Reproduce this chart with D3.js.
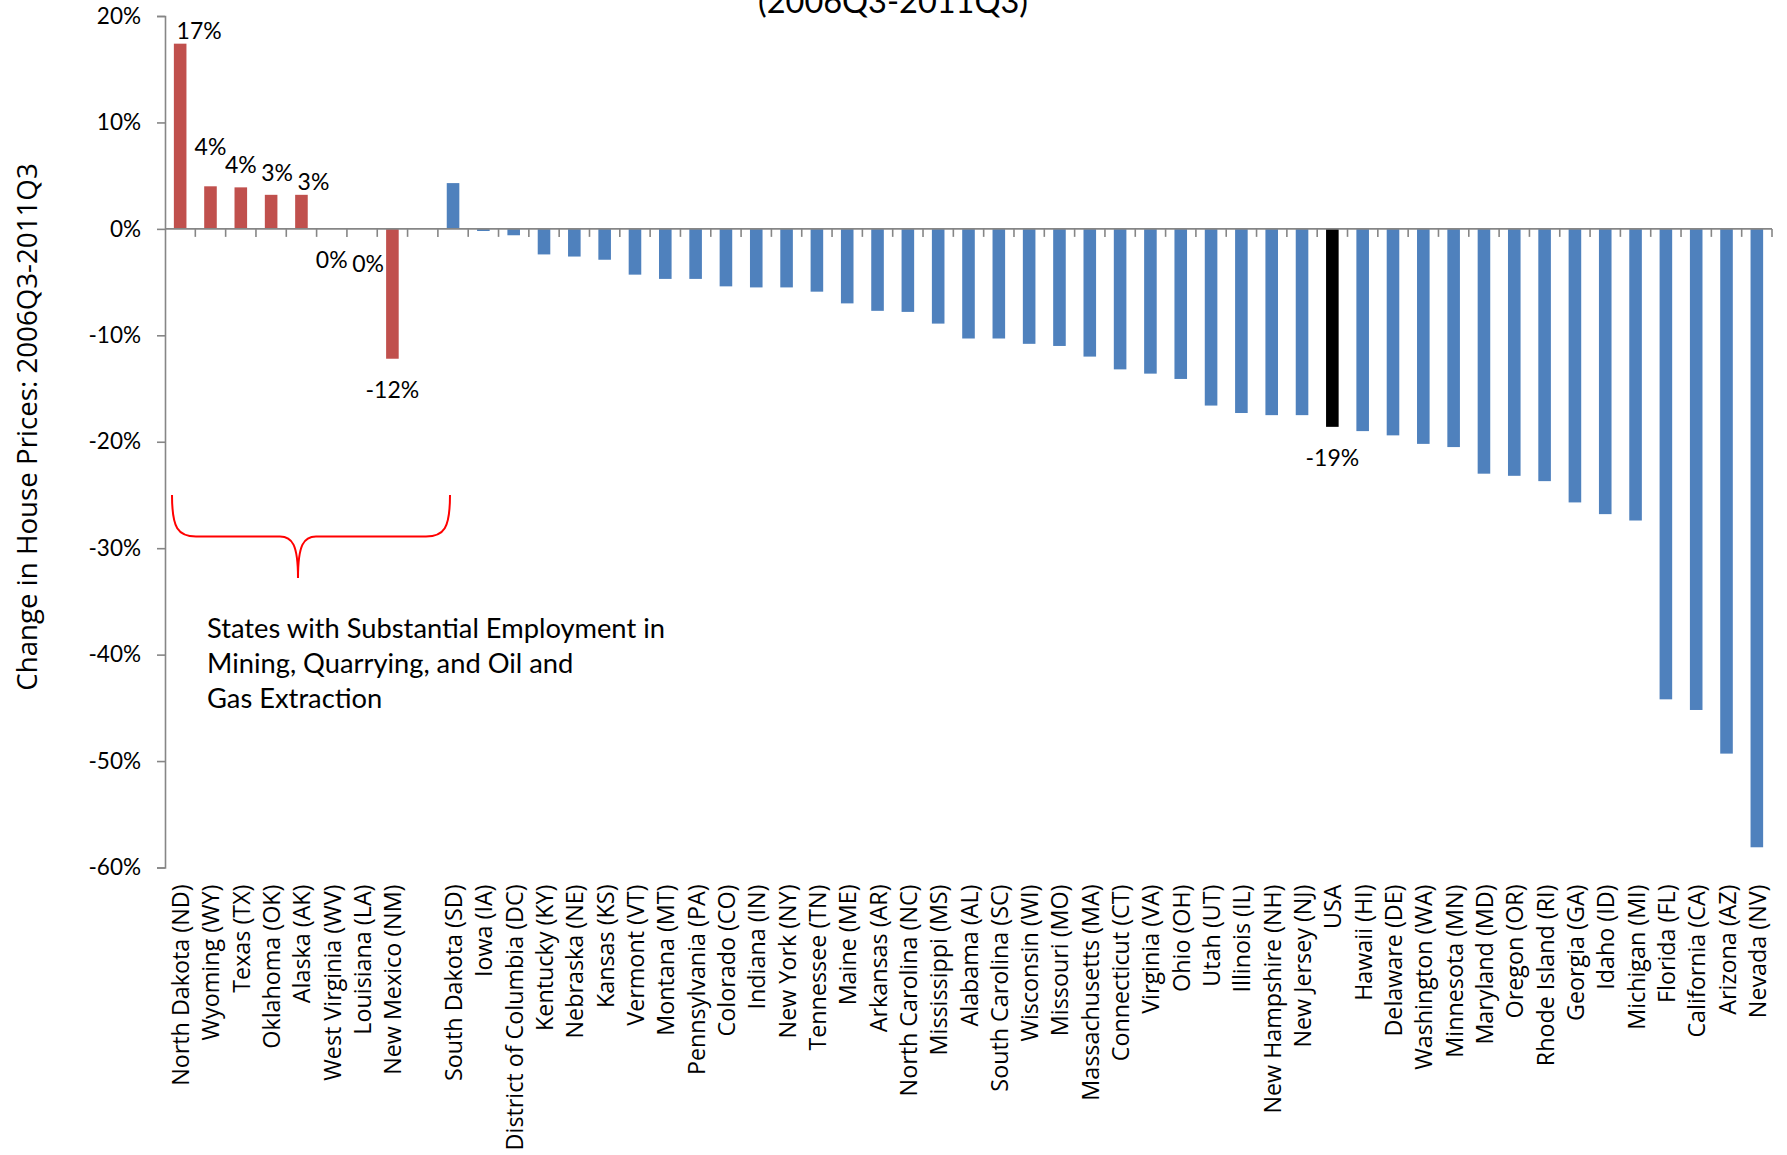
<!DOCTYPE html>
<html>
<head>
<meta charset="utf-8">
<script src="https://cdn.jsdelivr.net/npm/d3@7"></script>
<style>
  html, body { margin: 0; padding: 0; background: #fff; }
  svg { display: block; }
</style>
</head>
<body>
<svg id="chart" width="1787" height="1155"></svg>
<script>
// House price change by state, 2006Q3-2011Q3 (percent).
// The empty entry is the spacer between the mining states and the rest.
const categories = [
  "North Dakota (ND)", "Wyoming (WY)", "Texas (TX)", "Oklahoma (OK)", "Alaska (AK)",
  "West Virginia (WV)", "Louisiana (LA)", "New Mexico (NM)", "",
  "South Dakota (SD)", "Iowa (IA)", "District of Columbia (DC)", "Kentucky (KY)",
  "Nebraska (NE)", "Kansas (KS)", "Vermont (VT)", "Montana (MT)", "Pennsylvania (PA)",
  "Colorado (CO)", "Indiana (IN)", "New York (NY)", "Tennessee (TN)", "Maine (ME)",
  "Arkansas (AR)", "North Carolina (NC)", "Mississippi (MS)", "Alabama (AL)",
  "South Carolina (SC)", "Wisconsin (WI)", "Missouri (MO)", "Massachusetts (MA)",
  "Connecticut (CT)", "Virginia (VA)", "Ohio (OH)", "Utah (UT)", "Illinois (IL)",
  "New Hampshire (NH)", "New Jersey (NJ)", "USA", "Hawaii (HI)", "Delaware (DE)",
  "Washington (WA)", "Minnesota (MN)", "Maryland (MD)", "Oregon (OR)",
  "Rhode Island (RI)", "Georgia (GA)", "Idaho (ID)", "Michigan (MI)", "Florida (FL)",
  "California (CA)", "Arizona (AZ)", "Nevada (NV)"
];

const priceChange = [
  17.4, 4.0, 3.9, 3.2, 3.2, 0, 0, -12.2, null,
  4.3, -0.2, -0.6, -2.4, -2.6, -2.9, -4.3, -4.7, -4.7,
  -5.4, -5.5, -5.5, -5.9, -7.0, -7.7, -7.8, -8.9, -10.3,
  -10.3, -10.8, -11.0, -12.0, -13.2, -13.6, -14.1, -16.6, -17.3,
  -17.5, -17.5, -18.6, -19.0, -19.4, -20.2, -20.5, -23.0, -23.2,
  -23.7, -25.7, -26.8, -27.4, -44.2, -45.2, -49.3, -58.1
];

// States with substantial employment in mining, quarrying, oil and gas extraction
const miningStates = [
  "North Dakota (ND)", "Wyoming (WY)", "Texas (TX)", "Oklahoma (OK)", "Alaska (AK)",
  "West Virginia (WV)", "Louisiana (LA)", "New Mexico (NM)"
];

// Bars that carry a value label
const labelledBars = [
  "North Dakota (ND)", "Wyoming (WY)", "Texas (TX)", "Oklahoma (OK)", "Alaska (AK)",
  "West Virginia (WV)", "Louisiana (LA)", "New Mexico (NM)", "USA"
];

const yTicks = [20, 10, 0, -10, -20, -30, -40, -50, -60];

const titleText = "(2006Q3-2011Q3)";
const yAxisTitle = "Change in House Prices: 2006Q3-2011Q3";
const noteLines = [
  "States with Substantial Employment in",
  "Mining, Quarrying, and Oil and",
  "Gas Extraction"
];

// ---- layout ----
const plot = { left: 165, right: 1772, top: 16, bottom: 867.5 };
const colors = { mining: "#C0504D", other: "#4F81BD", usa: "#000000", axis: "#868686", brace: "#FF0000" };
// hand-placed nudges for the value labels
const labelNudge = {
  "North Dakota (ND)": [19, 0],
  "Wyoming (WY)": [0, -26],
  "Texas (TX)": [0, -9],
  "Oklahoma (OK)": [6, -9],
  "Alaska (AK)": [12, 0],
  "Louisiana (LA)": [6, 4]
};

const svg = d3.select("#chart");
svg.append("rect").attr("width", 1787).attr("height", 1155).attr("fill", "#fff");

const x = d3.scaleBand()
  .domain(categories)
  .range([plot.left, plot.right])
  .paddingInner(0.585)
  .paddingOuter(0.2925);

const y = d3.scaleLinear().domain([-60, 20]).range([plot.bottom, plot.top]);

const data = categories.map((c, i) => ({ name: c, value: priceChange[i] }));

function barColor(d) {
  if (d.name === "USA") return colors.usa;
  if (miningStates.includes(d.name)) return colors.mining;
  return colors.other;
}

// bars
svg.append("g").selectAll("rect")
  .data(data.filter(d => d.value !== null && d.value !== 0))
  .join("rect")
  .attr("x", d => x(d.name))
  .attr("width", x.bandwidth())
  .attr("y", d => y(Math.max(0, d.value)))
  .attr("height", d => Math.abs(y(d.value) - y(0)))
  .attr("fill", barColor);

// y axis
const fmtTick = v => `${v}%`;
const yAxis = d3.axisLeft(y).tickValues(yTicks).tickFormat(fmtTick).tickSize(8).tickPadding(16);
const yg = svg.append("g").attr("transform", `translate(${plot.left},0)`).call(yAxis);
yg.select(".domain").attr("stroke", colors.axis).attr("stroke-width", 1.6);
yg.selectAll(".tick line").attr("stroke", colors.axis).attr("stroke-width", 1.6);
yg.selectAll(".tick text")
  .attr("font-family", "Lato, 'Open Sans', sans-serif")
  .attr("font-size", 22.5)
  .attr("fill", "#000");

// x axis along zero, tick marks between categories
const xg = svg.append("g");
xg.append("line")
  .attr("x1", plot.left).attr("x2", plot.right)
  .attr("y1", y(0)).attr("y2", y(0))
  .attr("stroke", colors.axis).attr("stroke-width", 1.6);
const boundaries = d3.range(1, categories.length + 1).map(i => plot.left + i * x.step());
xg.selectAll("line.tick").data(boundaries).join("line")
  .attr("class", "tick")
  .attr("x1", d => d).attr("x2", d => d)
  .attr("y1", y(0)).attr("y2", y(0) + 8)
  .attr("stroke", colors.axis).attr("stroke-width", 1.6);

// category labels under the plot area
svg.append("g").selectAll("text")
  .data(categories)
  .join("text")
  .attr("transform", d => `translate(${x(d) + x.bandwidth() / 2},${plot.bottom + 17}) rotate(-90)`)
  .attr("text-anchor", "end")
  .attr("dominant-baseline", "central")
  .attr("font-family", "'Open Sans', sans-serif")
  .attr("font-size", 23.3)
  .attr("fill", "#000")
  .text(d => d);

// value labels
const fmtPct = v => d3.format(".0%")(v / 100).replace("\u2212", "-");
svg.append("g").selectAll("text")
  .data(data.filter(d => labelledBars.includes(d.name)))
  .join("text")
  .attr("x", d => x(d.name) + x.bandwidth() / 2 + (labelNudge[d.name] || [0, 0])[0])
  .attr("y", d => (d.value > 0 ? y(d.value) - 14 : y(d.value) + 30) + (labelNudge[d.name] || [0, 0])[1])
  .attr("text-anchor", "middle")
  .attr("dominant-baseline", "central")
  .attr("font-family", "Lato, 'Open Sans', sans-serif")
  .attr("font-size", 23)
  .attr("fill", "#000")
  .text(d => fmtPct(d.value));

// title (upper line runs off the top edge)
svg.append("text")
  .attr("x", 893).attr("y", 13)
  .attr("text-anchor", "middle")
  .attr("font-family", "Lato, 'Open Sans', sans-serif")
  .attr("font-size", 32.5)
  .attr("fill", "#000")
  .text(titleText);

// y axis title
svg.append("text")
  .attr("transform", "translate(26,427) rotate(-90)")
  .attr("text-anchor", "middle")
  .attr("dominant-baseline", "central")
  .attr("font-family", "'Open Sans', sans-serif")
  .attr("font-size", 27.7)
  .attr("fill", "#000")
  .text(yAxisTitle);

// brace grouping the mining states
const br = { left: 172, right: 450, tip: 298, top: y(-25), mid: y(-28.9), bottom: y(-32.8) };
const p = d3.path();
p.moveTo(br.left, br.top);
p.bezierCurveTo(br.left, br.mid - 8, br.left + 6, br.mid, br.left + 24, br.mid);
p.lineTo(br.tip - 18, br.mid);
p.bezierCurveTo(br.tip - 6, br.mid, br.tip, br.mid + 8, br.tip, br.bottom);
p.bezierCurveTo(br.tip, br.mid + 8, br.tip + 6, br.mid, br.tip + 18, br.mid);
p.lineTo(br.right - 24, br.mid);
p.bezierCurveTo(br.right - 6, br.mid, br.right, br.mid - 8, br.right, br.top);
svg.append("path")
  .attr("d", p.toString())
  .attr("fill", "none")
  .attr("stroke", colors.brace)
  .attr("stroke-width", 2);

// note text
svg.append("g").selectAll("text")
  .data(noteLines)
  .join("text")
  .attr("x", 207)
  .attr("y", (d, i) => 638 + i * 35)
  .attr("font-family", "Lato, 'Open Sans', sans-serif")
  .attr("font-size", 27.3)
  .attr("fill", "#000")
  .text(d => d);
</script>
</body>
</html>
